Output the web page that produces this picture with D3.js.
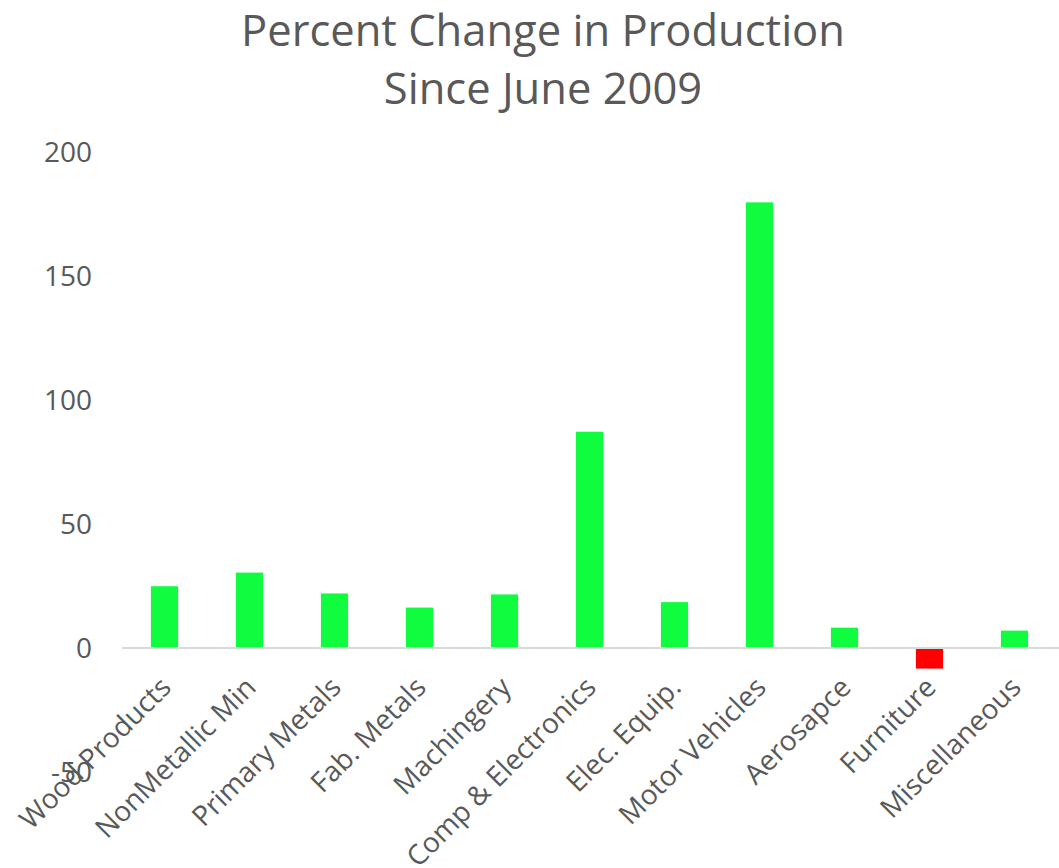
<!DOCTYPE html>
<html>
<head>
<meta charset="utf-8">
<script src="https://cdn.jsdelivr.net/npm/d3@7"></script>
<style>
  body { margin: 0; background: #fff; }
  text { font-family: "Open Sans", sans-serif; fill: #595959; }
</style>
</head>
<body>
<div id="chart"></div>
<script>
const categories = ["Wood Products", "NonMetallic Min", "Primary Metals", "Fab. Metals",
  "Machingery", "Comp & Electronics", "Elec. Equip.", "Motor Vehicles",
  "Aerosapce", "Furniture", "Miscellaneous"];
const values = [24.9, 30.4, 22.0, 16.3, 21.6, 87.2, 18.5, 179.7, 8.2, -8.3, 7.0];
const yTicks = [-50, 0, 50, 100, 150, 200];
const titleLines = ["Percent Change in Production", "Since June 2009"];

function main() {
  const width = 1059;
  const height = 868;

  const svg = d3
    .select("#chart")
    .append("svg")
    .attr("width", width)
    .attr("height", height);

  const x = d3
    .scaleBand()
    .domain(categories)
    .range([122, 1057])
    .paddingInner(0.68)
    .paddingOuter(0.34);

  const y = d3.scaleLinear().domain([-50, 200]).range([772, 152]);

  // title
  svg
    .append("g")
    .selectAll("text")
    .data(titleLines)
    .enter()
    .append("text")
    .attr("x", 543)
    .attr("y", (d, i) => 46 + i * 58)
    .attr("text-anchor", "middle")
    .style("font-size", "43.5px")
    .text((d) => d);

  // y tick labels (no axis line)
  svg
    .append("g")
    .selectAll("text")
    .data(yTicks)
    .enter()
    .append("text")
    .attr("x", 92)
    .attr("y", (d) => y(d))
    .attr("dy", "0.36em")
    .attr("text-anchor", "end")
    .style("font-size", "28px")
    .text((d) => d);

  // bars
  svg
    .append("g")
    .selectAll("rect")
    .data(values)
    .enter()
    .append("rect")
    .attr("x", (d, i) => x(categories[i]))
    .attr("width", x.bandwidth())
    .attr("y", (d) => y(Math.max(0, d)))
    .attr("height", (d) => Math.abs(y(d) - y(0)))
    .attr("fill", (d) => (d < 0 ? "#ff0000" : "#0ffc3f"));

  // zero line
  svg
    .append("line")
    .attr("x1", 122)
    .attr("x2", width)
    .attr("y1", y(0))
    .attr("y2", y(0))
    .attr("stroke", "#d9d9d9")
    .attr("stroke-width", 2);

  // category labels, rotated
  svg
    .append("g")
    .selectAll("text")
    .data(categories)
    .enter()
    .append("text")
    .attr("text-anchor", "end")
    .attr(
      "transform",
      (d) => `translate(${x(d) + x.bandwidth() / 2 + 1}, 682) rotate(-45)`
    )
    .attr("dy", "0.36em")
    .style("font-size", "28px")
    .text((d) => d);
}

main();
</script>
</body>
</html>
